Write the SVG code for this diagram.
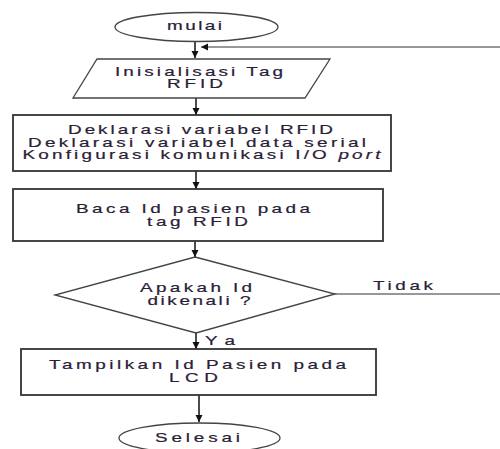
<svg xmlns="http://www.w3.org/2000/svg" width="500" height="449" viewBox="0 0 500 449">
<defs>
<marker id="arr" markerWidth="8" markerHeight="8" refX="7" refY="4" orient="auto" markerUnits="userSpaceOnUse">
<path d="M0,0.5 L7,4 L0,7.5 Z" fill="#111"/>
</marker>
<style>
.shape{fill:#fff;stroke:#444;stroke-width:1.3}
.box{fill:#fff;stroke:#333;stroke-width:1.8}
.conn{fill:none;stroke:#111;stroke-width:1.5}
.line{fill:none;stroke:#333;stroke-width:1.2}
text{font-family:"Liberation Sans",Arial,sans-serif;font-size:13.5px;fill:#2a2036;stroke:#2a2036;stroke-width:0.2;text-anchor:middle}
</style>
</defs>
<rect x="0" y="0" width="500" height="449" fill="#fff"/>
<g id="connectors">
<line class="conn" x1="195" y1="42" x2="195" y2="58" marker-end="url(#arr)"/>
<line class="line" x1="500" y1="47" x2="201" y2="47" marker-end="url(#arr)"/>
<line class="conn" x1="196" y1="98" x2="196" y2="115" marker-end="url(#arr)"/>
<line class="conn" x1="196" y1="171" x2="196" y2="189" marker-end="url(#arr)"/>
<line class="conn" x1="195" y1="241" x2="195" y2="257" marker-end="url(#arr)"/>
<line class="line" x1="335" y1="294" x2="500" y2="294"/>
<text transform="matrix(1.4 0 0 1 403 0)" x="0" y="290.5" textLength="42.9" lengthAdjust="spacing">Tidak</text>
<line class="conn" x1="196" y1="333" x2="196" y2="349" marker-end="url(#arr)"/>
<text transform="matrix(1.4 0 0 1 220 0)" x="0" y="345" textLength="21.4" lengthAdjust="spacing">Ya</text>
<line class="conn" x1="199" y1="395" x2="199" y2="422" marker-end="url(#arr)"/>
</g>
<g id="start">
<ellipse class="shape" cx="196.5" cy="27" rx="81.5" ry="14.5"/>
<text transform="matrix(1.4 0 0 1 194.5 0)" x="0" y="30" textLength="39.3" lengthAdjust="spacing">mulai</text>
</g>
<g id="init">
<polygon class="shape" points="97,59 330,59 305,98 73,98"/>
<text transform="matrix(1.4 0 0 1 199 0)" x="0" y="76" textLength="120" lengthAdjust="spacing">Inisialisasi Tag</text>
<text transform="matrix(1.4 0 0 1 195 0)" x="0" y="88.5" textLength="40" lengthAdjust="spacing">RFID</text>
</g>
<g id="declare">
<rect class="box" x="13" y="115" width="378" height="56"/>
<text transform="matrix(1.4 0 0 1 200.5 0)" x="0" y="134" textLength="189.3" lengthAdjust="spacing">Deklarasi variabel RFID</text>
<text transform="matrix(1.4 0 0 1 197 0)" x="0" y="147" textLength="241.4" lengthAdjust="spacing">Deklarasi variabel data serial</text>
<text transform="matrix(1.4 0 0 1 201.5 0)" x="0" y="159.5" textLength="255.7" lengthAdjust="spacing">Konfigurasi komunikasi I/O <tspan font-style="italic">port</tspan></text>
</g>
<g id="read">
<rect class="box" x="13" y="189" width="370" height="52"/>
<text transform="matrix(1.4 0 0 1 193 0)" x="0" y="213" textLength="167.1" lengthAdjust="spacing">Baca Id pasien pada</text>
<text transform="matrix(1.4 0 0 1 197.5 0)" x="0" y="226" textLength="72.1" lengthAdjust="spacing">tag RFID</text>
</g>
<g id="decision">
<polygon class="shape" points="195,257 335,294 196,333 55,295"/>
<text transform="matrix(1.4 0 0 1 196 0)" x="0" y="292.5" textLength="80" lengthAdjust="spacing">Apakah Id</text>
<text transform="matrix(1.4 0 0 1 199 0)" x="0" y="305.5" textLength="73.6" lengthAdjust="spacing">dikenali ?</text>
</g>
<g id="display">
<rect class="box" x="21" y="349" width="355" height="46"/>
<text transform="matrix(1.4 0 0 1 197.5 0)" x="0" y="369.5" textLength="212.1" lengthAdjust="spacing">Tampilkan Id Pasien pada</text>
<text transform="matrix(1.4 0 0 1 193.5 0)" x="0" y="382" textLength="35" lengthAdjust="spacing">LCD</text>
</g>
<g id="end">
<ellipse class="shape" cx="199.5" cy="438" rx="80.5" ry="15"/>
<text transform="matrix(1.4 0 0 1 197.5 0)" x="0" y="442.5" textLength="60.7" lengthAdjust="spacing">Selesai</text>
</g>
</svg>
